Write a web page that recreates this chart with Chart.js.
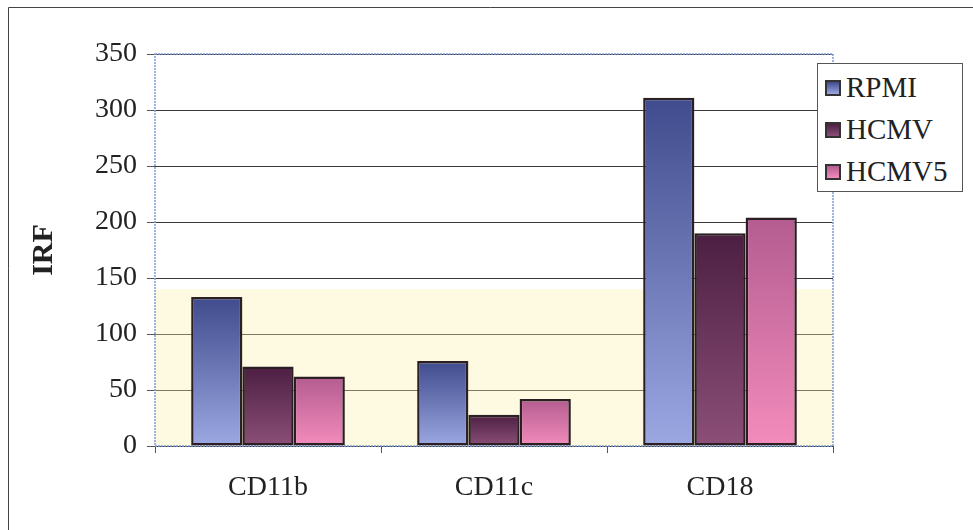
<!DOCTYPE html>
<html>
<head>
<meta charset="utf-8">
<script src="https://cdn.jsdelivr.net/npm/chart.js@4/dist/chart.umd.min.js"></script>
<style>
  html, body { margin: 0; padding: 0; background: #fff; }
  #wrap { position: relative; width: 973px; height: 530px; }
  #legend {
    position: absolute; left: 817px; top: 63px; width: 146px; height: 129px;
    border: 1px solid #555; background: #fff; box-sizing: border-box;
    font-family: "Liberation Serif", "Times New Roman", serif; font-size: 29px; color: #222;
    padding-top: 2px;
  }
  #legend div { height: 42px; line-height: 42px; white-space: nowrap; }
  #legend span.box {
    display: inline-block; width: 12px; height: 12px; border: 2px solid #333;
    margin: 0 5px 0 7px; vertical-align: 1px;
  }
</style>
</head>
<body>
<div id="wrap">
  <canvas id="chart" width="973" height="530"></canvas>
  <div id="legend"></div>
</div>
<script>
// categories and series
const categories = ['CD11b', 'CD11c', 'CD18'];
const rpmi = [133, 76, 311];
const hcmv = [71, 28, 190];
const hcmv5 = [62, 42, 204];
const yTicks = [0, 50, 100, 150, 200, 250, 300, 350];

// gradient colours per series: [top, bottom]
const shades = {
  RPMI: ['#3f4b8c', '#9ba8e2'],
  HCMV: ['#4c1f42', '#8c4f78'],
  HCMV5: ['#b45c90', '#f38cbc']
};

function barFill(name) {
  return function (ctx) {
    const chart = ctx.chart;
    if (!chart.chartArea || ctx.parsed === undefined) return shades[name][1];
    const y = chart.scales.y;
    const top = y.getPixelForValue(ctx.parsed.y);
    const bottom = y.getPixelForValue(0);
    const g = chart.ctx.createLinearGradient(0, top, 0, bottom);
    g.addColorStop(0, shades[name][0]);
    g.addColorStop(1, shades[name][1]);
    return g;
  };
}

function makeSet(label, data) {
  return {
    label: label,
    data: data,
    backgroundColor: barFill(label),
    borderColor: '#2b1f24',
    borderWidth: 2.5,
    borderSkipped: false,
    categoryPercentage: 0.68,
    barPercentage: 1.0
  };
}

// faint yellow tint in the lower part of the plot, plus outer frame
const backdrop = {
  id: 'backdrop',
  beforeDatasetsDraw(chart) {
    const { ctx, chartArea, scales } = chart;
    const top = scales.y.getPixelForValue(140);
    const bottom = scales.y.getPixelForValue(0);
    ctx.save();
    ctx.fillStyle = 'rgba(248, 240, 170, 0.35)';
    ctx.fillRect(chartArea.left, top, chartArea.right - chartArea.left, bottom - top);
    // plot-area border
    ctx.strokeStyle = '#7d9bd6';
    ctx.lineWidth = 1.5;
    ctx.setLineDash([2, 1]);
    ctx.strokeRect(chartArea.left, chartArea.top, chartArea.right - chartArea.left, chartArea.bottom - chartArea.top);
    ctx.restore();
  },
  afterDraw(chart) {
    const ctx = chart.ctx;
    ctx.save();
    ctx.strokeStyle = '#444';
    ctx.lineWidth = 1;
    ctx.beginPath();
    ctx.moveTo(8.5, 530);
    ctx.lineTo(8.5, 7.5);
    ctx.lineTo(973, 7.5);
    ctx.stroke();
    ctx.restore();
  }
};

const serif = '"Liberation Serif", "Times New Roman", serif';

const chart = new Chart(document.getElementById('chart').getContext('2d'), {
  type: 'bar',
  data: {
    labels: categories,
    datasets: [makeSet('RPMI', rpmi), makeSet('HCMV', hcmv), makeSet('HCMV5', hcmv5)]
  },
  options: {
    responsive: false,
    animation: false,
    layout: { padding: { left: 26, right: 140, top: 54, bottom: 24 } },
    plugins: {
      legend: { display: false },
      tooltip: { enabled: false }
    },
    scales: {
      y: {
        min: 0,
        max: 350,
        afterBuildTicks: (axis) => { axis.ticks = yTicks.map(v => ({ value: v })); },
        afterFit: (axis) => { axis.width = 129; },
        ticks: {
          color: '#222',
          padding: 10,
          font: { family: serif, size: 28 }
        },
        grid: {
          color: '#3a3a3a',
          lineWidth: 1,
          tickLength: 8,
          tickColor: '#555'
        },
        border: { display: false },
        title: {
          display: true,
          text: 'IRF',
          color: '#222',
          padding: 0,
          font: { family: serif, size: 30, weight: 'bold' }
        }
      },
      x: {
        afterFit: (axis) => { axis.height = 60; },
        ticks: {
          color: '#222',
          padding: 18,
          font: { family: serif, size: 28 }
        },
        grid: {
          offset: true,
          drawOnChartArea: false,
          tickLength: 7,
          tickColor: '#555'
        },
        border: { display: false }
      }
    }
  },
  plugins: [backdrop]
});

// HTML legend from the dataset labels
const legendEl = document.getElementById('legend');
chart.data.datasets.forEach(ds => {
  const row = document.createElement('div');
  const box = document.createElement('span');
  box.className = 'box';
  box.style.background = 'linear-gradient(' + shades[ds.label][0] + ', ' + shades[ds.label][1] + ')';
  row.appendChild(box);
  row.appendChild(document.createTextNode(ds.label));
  legendEl.appendChild(row);
});
</script>
</body>
</html>
